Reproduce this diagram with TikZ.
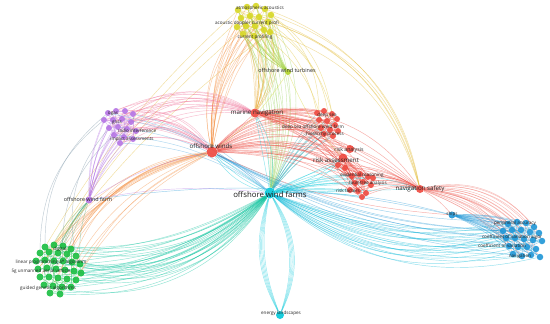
\documentclass[tikz,border=0pt]{standalone}
\usepackage{fontspec}
\setmainfont{Open Sans}
\definecolor{cred}{RGB}{238,72,62}
\definecolor{ccyan}{RGB}{0,200,218}
\definecolor{cgreen}{RGB}{25,190,65}
\definecolor{cblue}{RGB}{30,150,215}
\definecolor{cpurple}{RGB}{180,115,228}
\definecolor{cyel}{RGB}{215,215,35}
\definecolor{corange}{RGB}{245,140,60}
\definecolor{cpink}{RGB}{240,110,150}
\pgfdeclarelayer{bg}
\pgfsetlayers{bg,main}
\tikzset{
  dot/.style={circle,inner sep=0pt,minimum size=#1,fill opacity=0.9},
  lab/.style={font=\fontsize{4.6}{5}\selectfont,text=black!85,inner sep=0pt},
  midlab/.style={font=\fontsize{6.2}{7}\selectfont,text=black!85,inner sep=0pt},
  biglab/.style={font=\fontsize{7.8}{9}\selectfont,text=black!90,inner sep=0pt},
  edge/.style={line width=0.45pt,draw opacity=0.45},
}
\begin{document}
\begin{tikzpicture}[x=1pt,y=-1pt]
\useasboundingbox (0,0) rectangle (550,324);
% ---------- cluster nodes ----------
\foreach \x/\y [count=\i] in {45/247,54/245,63/246,71/249,40/253,49/252,58/253,67/254,76/256,36/261,45/260,54/261,63/261,72/262,80/264,38/269,47/268,56/269,65/270,74/271,81/273,40/277,49/277,58/278,67/279,76/280,44/285,53/286,62/287,71/287,50/293,60/294}
  \node[dot=7,fill=cgreen] (g\i) at (\x,\y) {};
\foreach \x/\y [count=\i] in {508/224,517/222,526/223,534/227,503/231,512/230,521/230,530/232,539/233,506/238,515/238,524/239,533/240,542/241,509/246,518/247,527/247,536/249,513/254,522/256,531/255,540/257}
  \node[dot=6.5,fill=cblue] (b\i) at (\x,\y) {};
\foreach \x/\y [count=\i] in {238/10,247/7,256/6,265/9,271/15,241/18,250/16,259/17,268/22,237/27,246/26,255/26,264/30,243/34,254/36,270/32}
  \node[dot=6.5,fill=cyel] (y\i) at (\x,\y) {};
\foreach \x/\y [count=\i] in {108/113,116/111,125/111,133/114,104/120,113/120,122/119,131/122,109/128,118/127,127/129,136/131,114/135,124/137,133/139,120/143}
  \node[dot=6,fill=cpurple] (p\i) at (\x,\y) {};
\foreach \x/\y [count=\i] in {317/113,324/111,332/114,337/119,319/120,327/121,335/125,321/128,330/130,338/131,324/134,333/136}
  \node[dot=6,fill=cred] (rt\i) at (\x,\y) {};
\foreach \x/\y [count=\i] in {352/176,360/174,368/177,355/183,363/182,371/185,350/190,358/191,366/193,373/178,362/197,345/168,338/165}
  \node[dot=6,fill=cred] (rl\i) at (\x,\y) {};
% ---------- main nodes ----------
\node[dot=11,fill=ccyan] (owf) at (270,193) {};
\node[dot=11,fill=cred] (ow) at (212,152) {};
\node[dot=9,fill=cred] (mn) at (255,113) {};
\node[dot=6,fill=cyel!80!cgreen] (owt) at (288,72) {};
\node[dot=7,fill=cpurple] (owfm) at (89,200) {};
\node[dot=8,fill=cred] (ns) at (420,189) {};
\node[dot=7,fill=cblue] (ships) at (452,215) {};
\node[dot=8,fill=ccyan] (el) at (280,315) {};
\node[dot=8,fill=cred] (ra) at (350,149) {};
\node[dot=9,fill=cred] (rass) at (343,158) {};
% ---------- edges ----------
\begin{pgfonlayer}{bg}
\fill[white] (0,0) rectangle (550,324);
% within clusters
\foreach \i in {1,...,32}{\pgfmathtruncatemacro\j{mod(\i,32)+1}\pgfmathtruncatemacro\k{mod(\i+5,32)+1}
  \draw[edge,cgreen] (g\i) -- (g\j); \draw[edge,cgreen] (g\i) -- (g\k);}
\foreach \i in {1,...,22}{\pgfmathtruncatemacro\j{mod(\i,22)+1}\pgfmathtruncatemacro\k{mod(\i+4,22)+1}
  \draw[edge,cblue] (b\i) -- (b\j); \draw[edge,cblue] (b\i) -- (b\k);}
\foreach \i in {1,...,16}{\pgfmathtruncatemacro\j{mod(\i,16)+1}\pgfmathtruncatemacro\k{mod(\i+4,16)+1}
  \draw[edge,cyel] (y\i) -- (y\j); \draw[edge,cyel] (y\i) -- (y\k);
  \draw[edge,cpurple] (p\i) -- (p\j); \draw[edge,cpurple] (p\i) -- (p\k);}
\foreach \i in {1,...,12}{\pgfmathtruncatemacro\j{mod(\i,12)+1}\pgfmathtruncatemacro\k{mod(\i+3,12)+1}
  \draw[edge,cred] (rt\i) -- (rt\j); \draw[edge,cred] (rt\i) -- (rt\k);}
\foreach \i in {1,...,13}{\pgfmathtruncatemacro\j{mod(\i,13)+1}\pgfmathtruncatemacro\k{mod(\i+3,13)+1}
  \draw[edge,cred] (rl\i) -- (rl\j); \draw[edge,cred] (rl\i) -- (rl\k);}
% offshore wind farms -> green
\foreach \i in {1,...,32}{\pgfmathtruncatemacro\b{12+mod(\i,7)*4}
  \draw[edge,ccyan!60!cgreen] (owf) to[bend left=\b] (g\i);}
% offshore winds -> green (orange)
\foreach \i in {2,4,...,32}{\pgfmathtruncatemacro\b{14+mod(\i,5)*4}
  \draw[edge,corange] (ow) to[bend right=\b] (g\i);}
% purple / offshore wind farm -> green
\foreach \i in {1,5,9,13}{\draw[edge,cpurple!60!cgreen] (p\i) to[bend right=25] (g\i);}
\foreach \i in {3,7,...,31}{\draw[edge,cgreen!70!cpurple] (owfm) to[bend right=10] (g\i);}
\foreach \i in {1,6,11,16}{\draw[edge,cyel!60!corange] (y\i) to[bend right=8] (g\i);}
% offshore wind farms -> blue
\foreach \i in {1,...,22}{\pgfmathtruncatemacro\b{10+mod(\i,6)*4}
  \draw[edge,ccyan!70!cblue] (owf) to[bend right=\b] (b\i);}
\foreach \i in {1,...,22}{\pgfmathtruncatemacro\b{12+mod(\i,5)*5}
  \draw[edge,cred!80] (ns) to[bend left=\b] (b\i);}
\foreach \i in {1,...,22}{\draw[edge,cblue] (ships) to[bend left=8] (b\i);}
\foreach \i in {2,5,...,22}{\draw[edge,cblue] (ow) to[bend right=12] (b\i);}
\draw[edge,cblue] (ships) to[bend right=10] (owfm);
\draw[edge,cblue] (ships) to[bend right=8] (owf);
\draw[edge,cred] (ships) to[bend left=10] (ow);
\draw[edge,cred] (ships) to[bend right=10] (ns);
% energy landscapes
\foreach \b in {22,24,26,28,30} {\draw[edge,ccyan] (owf) to[bend left=\b] (el); \draw[edge,ccyan] (owf) to[bend right=\b-6] (el);}
% yellow
\foreach \i in {1,...,16}{\pgfmathtruncatemacro\b{8+mod(\i,6)*4}
  \draw[edge,corange] (ow) to[bend left=\b] (y\i);
  \draw[edge,corange!60!cyel] (mn) to[bend right=\b] (y\i);
  \draw[edge,cyel!70!cgreen] (owt) to[bend left=10] (y\i);
  \draw[edge,cyel!70!ccyan] (owf) to[bend right=\b] (y\i);}
\foreach \i in {1,3,...,11}{\draw[edge,cyel!70!corange] (y\i) to[bend left=25] (rt\i);
  \draw[edge,cyel!60!corange] (y\i) to[bend left=30] (ns);}
\draw[edge,cyel] (owt) to[bend left=10] (ow);
\draw[edge,cyel] (owt) to[bend right=10] (rass);
% purple
\foreach \i in {1,...,16}{\pgfmathtruncatemacro\b{15+mod(\i,5)*5}
  \draw[edge,cpink] (ow) to[bend right=\b] (p\i);
  \draw[edge,cpink] (mn) to[bend right=\b] (p\i);
  \draw[edge,cpurple] (owfm) to[bend left=12] (p\i);}
\foreach \i in {1,4,...,16}{\draw[edge,ccyan!60!cpurple] (owf) to[bend right=15] (p\i);}
\draw[edge,cpurple] (owfm) to[bend left=10] (ow);
\draw[edge,cpurple] (owfm) to[bend left=8] (owf);
% red
\foreach \i in {1,...,12}{\pgfmathtruncatemacro\b{15+mod(\i,5)*5}
  \draw[edge,cred] (ow) to[bend left=\b] (rt\i);
  \draw[edge,cred] (mn) to[bend left=10] (rt\i);
  \draw[edge,ccyan!80!cred] (owf) to[bend left=8] (rt\i);}
\foreach \i in {1,...,13}{\pgfmathtruncatemacro\b{10+mod(\i,5)*5}
  \draw[edge,cred] (ow) to[bend left=\b] (rl\i);
  \draw[edge,cred] (mn) to[bend left=\b] (rl\i);
  \draw[edge,cred] (ns) to[bend right=15] (rl\i);
  \draw[edge,ccyan] (owf) to[bend left=6] (rl\i);
  \draw[edge,cred] (rass) -- (rl\i);}
\foreach \b in {10,20,30} {\draw[edge,cred] (ow) to[bend left=\b] (ns); \draw[edge,cred] (mn) to[bend left=\b] (ns);
  \draw[edge,cred] (ow) to[bend left=\b] (ra); \draw[edge,cred] (ow) to[bend left=\b] (rass);}
\draw[edge,cred] (ow) -- (mn);
\draw[edge,cred] (mn) -- (rass);
\draw[edge,cred] (mn) -- (ra);
\draw[edge,cred] (ra) -- (ns);
\draw[edge,cred] (rass) -- (ns);
\foreach \b in {0,10,20} {\draw[edge,ccyan] (owf) to[bend left=\b] (ow); \draw[edge,ccyan] (owf) to[bend right=\b] (mn);
  \draw[edge,ccyan] (owf) to[bend left=\b] (ns); \draw[edge,ccyan] (owf) to[bend right=\b] (rass);}
\end{pgfonlayer}
% ---------- labels ----------
\node[biglab] (l1) at (270,195) {offshore wind farms};
\node[midlab] (l2) at (211,146.5) {offshore winds};
\node[midlab] (l3) at (257,112.5) {marine navigation};
\node[lab,font=\fontsize{5.4}{6}\selectfont] (l4) at (287,70.5) {offshore wind turbines};
\node[lab,font=\fontsize{5.4}{6}\selectfont] (l5) at (88,199) {offshore wind farm};
\node[midlab] (l6) at (420,189) {navigation safety};
\node[midlab] (l7) at (336,160.5) {risk assessment};
\node[lab,font=\fontsize{5.2}{6}\selectfont] (l8) at (349,150) {risk analysis};
\node[lab] (l9) at (260,8) {atmospheric acoustics};
\node[lab] (l10) at (247,23) {acoustic doppler current profi};
\node[lab] (l11) at (255,37) {current profiling};
\node[lab] (l12) at (113,114) {ogas};
\node[lab] (l13) at (117,123) {gnss};
\node[lab] (l14) at (137,131) {radio interference};
\node[lab] (l15) at (132,139) {impact assessments};
\node[lab] (l16) at (327,115) {deep sea};
\node[lab] (l17) at (313,127) {deep sea offshore wind farm};
\node[lab] (l18) at (325,134.5) {hierarchy process};
\node[lab] (l19) at (362,175) {evidential reasoning};
\node[lab] (l20) at (368,183) {fault tree analysis};
\node[lab] (l21) at (348,191) {risk factors};
\node[lab] (l22) at (452,214) {ships};
\node[lab] (l23) at (515,223) {peripheral accuracy};
\node[lab] (l24) at (512,237) {coefficient of variation algor};
\node[lab] (l25) at (502,246) {coefficient of variation};
\node[lab] (l26) at (520,256) {navigation};
\node[lab] (l27) at (60,249) {digital};
\node[lab] (l28) at (51,262) {linear programming a* algorithm};
\node[lab] (l29) at (41,271) {5g unmanned aerial vehicle};
\node[lab] (l30) at (48,288) {guided genetic algorithms};
\node[lab] (l31) at (281,313) {energy landscapes};
\end{tikzpicture}
\end{document}
